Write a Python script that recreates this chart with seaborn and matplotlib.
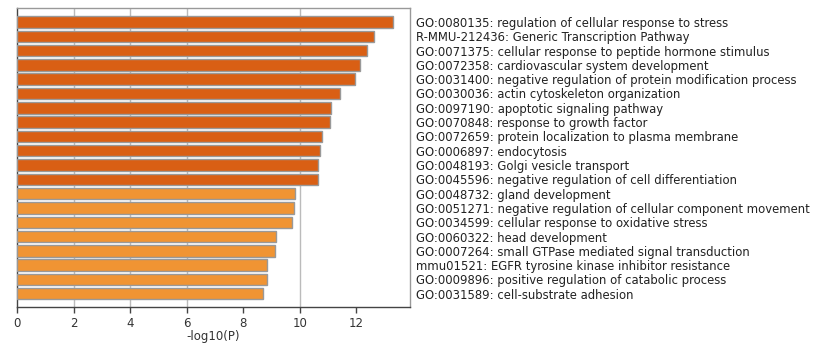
import matplotlib
matplotlib.use("Agg")
import matplotlib.pyplot as plt
import seaborn as sns
import pandas as pd

# terms and -log10(P) values, top to bottom
terms = [
    "GO:0080135: regulation of cellular response to stress",
    "R-MMU-212436: Generic Transcription Pathway",
    "GO:0071375: cellular response to peptide hormone stimulus",
    "GO:0072358: cardiovascular system development",
    "GO:0031400: negative regulation of protein modification process",
    "GO:0030036: actin cytoskeleton organization",
    "GO:0097190: apoptotic signaling pathway",
    "GO:0070848: response to growth factor",
    "GO:0072659: protein localization to plasma membrane",
    "GO:0006897: endocytosis",
    "GO:0048193: Golgi vesicle transport",
    "GO:0045596: negative regulation of cell differentiation",
    "GO:0048732: gland development",
    "GO:0051271: negative regulation of cellular component movement",
    "GO:0034599: cellular response to oxidative stress",
    "GO:0060322: head development",
    "GO:0007264: small GTPase mediated signal transduction",
    "mmu01521: EGFR tyrosine kinase inhibitor resistance",
    "GO:0009896: positive regulation of catabolic process",
    "GO:0031589: cell-substrate adhesion",
]
logp = [13.28, 12.62, 12.38, 12.14, 11.95, 11.43, 11.11, 11.06, 10.79, 10.70,
        10.63, 10.63, 9.82, 9.78, 9.72, 9.16, 9.13, 8.83, 8.83, 8.71]
group = ["high"] * 12 + ["low"] * 8

palette = {"high": "#D95F14", "low": "#F09433"}

df = pd.DataFrame({"term": terms, "logp": logp, "group": group})

sns.set_style("white")
plt.rcParams["font.family"] = ["DejaVu Sans"]

fig = plt.figure(figsize=(8.31, 3.46), dpi=100)
ax = fig.add_axes([0.0205, 0.113, 0.473, 0.864])

sns.barplot(data=df, y="term", x="logp", hue="group", palette=palette,
            saturation=1, dodge=False, legend=False, width=0.8,
            edgecolor="#999999", linewidth=1.0, ax=ax, zorder=3)

ax.set_xlim(0, 13.9)
ax.set_ylim(19.92, -0.98)
ax.set_xticks([0, 2, 4, 6, 8, 10, 12])
ax.tick_params(axis="x", labelsize=8.5, length=4, width=1, color="#444444",
               labelcolor="#333333", pad=3, direction="out", bottom=True)
ax.set_xlabel("-log10(P)", fontsize=8.5, color="#333333", labelpad=0.5)
ax.set_ylabel("")

# labels on the right side
ax.yaxis.tick_right()
ax.tick_params(axis="y", labelsize=8.4, length=0, pad=4, labelcolor="#222222")

# vertical grid lines (not at 8 and 12, as in the reference)
for v in [2, 4, 6, 10]:
    ax.axvline(v, color="#bbbbbb", lw=1, zorder=1)

for s in ["top", "right"]:
    ax.spines[s].set_color("#999999")
for s in ["left", "bottom"]:
    ax.spines[s].set_color("#444444")
for s in ax.spines.values():
    s.set_linewidth(1)

fig.savefig("out.png", dpi=100)
